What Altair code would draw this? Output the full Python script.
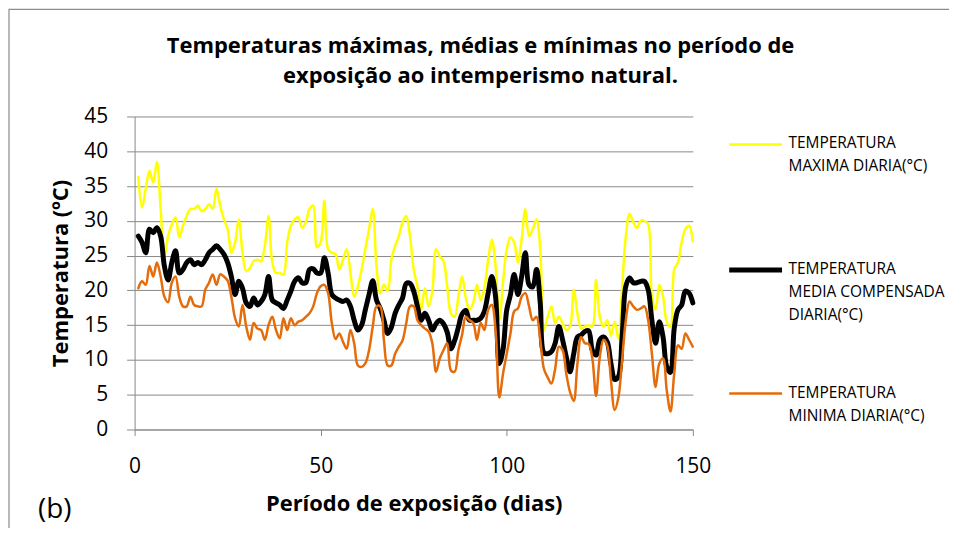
import altair as alt
import pandas as pd

# ---------------- data ----------------
days = list(range(1, 151))

t_max = [36.3, 31.9, 34.6, 37.2, 35.5, 38.5, 31.7, 24.9, 27.8, 29.5,
         30.5, 27.6, 29.3, 30.7, 31.7, 31.7, 32.2, 31.4, 31.7, 32.4,
         31.7, 34.6, 32.2, 30.2, 28.8, 25.4, 26.9, 30.2, 25.4, 22.8,
         23.2, 24.2, 24.4, 24.2, 26.4, 30.7, 24.0, 22.5, 22.5, 22.3,
         26.9, 29.3, 30.2, 30.5, 29.0, 29.8, 31.7, 32.2, 26.2, 26.9,
         32.9, 25.9, 25.4, 25.2, 23.0, 24.4, 25.9, 22.5, 19.1, 20.6,
         23.0, 25.9, 28.8, 31.7, 23.5, 19.6, 20.8, 19.9, 24.4, 26.4,
         27.8, 29.8, 30.7, 27.8, 23.0, 20.6, 17.2, 20.3, 17.7, 19.9,
         25.9, 24.9, 24.2, 20.6, 16.7, 16.2, 19.1, 22.0, 18.9, 17.2,
         18.2, 20.8, 18.6, 20.3, 24.4, 27.3, 23.5, 15.8, 21.1, 25.9,
         27.6, 26.9, 24.0, 27.3, 31.7, 27.8, 28.8, 30.2, 25.9, 14.3,
         16.2, 17.7, 15.3, 16.2, 15.3, 14.3, 14.8, 20.1, 16.7, 14.5,
         14.8, 15.0, 14.8, 21.5, 16.2, 14.8, 15.7, 13.5, 15.5, 13.0,
         20.3, 27.8, 31.0, 29.8, 29.0, 30.0, 30.0, 29.5, 19.1, 17.2,
         20.8, 19.1, 15.5, 14.8, 23.0, 24.0, 26.9, 28.8, 29.3, 27.1]

t_med = [27.8, 26.9, 25.4, 28.8, 28.3, 29.0, 27.8, 23.5, 21.5, 24.0,
         25.7, 22.5, 23.0, 24.0, 24.4, 23.7, 24.0, 23.7, 24.4, 25.4,
         25.9, 26.4, 25.9, 25.2, 24.0, 22.0, 19.4, 21.3, 20.3, 18.2,
         17.7, 18.9, 17.9, 18.4, 19.4, 22.0, 18.6, 18.2, 17.9, 17.4,
         18.6, 19.9, 21.3, 21.8, 21.1, 21.1, 23.0, 23.1, 22.5, 22.5,
         24.7, 22.5, 19.4, 18.9, 18.6, 18.4, 18.6, 17.7, 15.7, 14.3,
         15.0, 17.2, 19.4, 21.4, 18.6, 17.4, 15.7, 13.8, 14.7, 16.7,
         17.9, 18.9, 21.0, 21.0, 19.9, 17.7, 15.7, 16.7, 15.7, 14.3,
         15.2, 15.7, 15.2, 14.0, 11.6, 12.8, 14.7, 16.6, 17.1, 15.7,
         15.7, 15.7, 16.0, 17.0, 19.6, 22.0, 19.1, 9.5, 11.5, 17.2,
         19.4, 22.3, 19.4, 22.0, 25.4, 20.8, 20.5, 23.0, 18.2, 11.0,
         10.9, 11.2, 12.4, 14.8, 12.9, 10.4, 8.3, 10.9, 13.3, 13.6,
         14.1, 14.2, 11.4, 10.7, 12.9, 13.3, 12.6, 9.5, 7.2, 7.6,
         13.3, 20.6, 21.8, 21.1, 21.1, 21.3, 21.3, 20.1, 15.7, 12.4,
         15.5, 13.3, 9.0, 8.2, 14.5, 17.2, 17.9, 19.9, 19.6, 18.2]

t_min = [20.3, 21.3, 20.8, 23.5, 22.0, 24.0, 22.0, 19.1, 18.3, 21.1,
         22.0, 19.1, 17.7, 17.7, 19.1, 17.9, 17.7, 17.7, 20.1, 21.1,
         22.3, 20.8, 22.3, 22.0, 21.4, 19.1, 16.0, 14.8, 17.9, 14.8,
         12.9, 15.3, 14.5, 14.3, 12.9, 15.0, 16.2, 14.3, 13.1, 16.0,
         14.3, 16.0, 15.0, 15.5, 15.7, 16.2, 16.7, 17.7, 19.6, 20.6,
         20.8, 19.6, 15.3, 13.0, 13.8, 12.6, 11.6, 14.3, 12.4, 9.2,
         9.0, 9.5, 11.4, 14.8, 17.7, 17.7, 12.8, 9.2, 9.2, 10.9,
         11.9, 12.8, 15.3, 17.7, 17.7, 15.7, 15.0, 14.5, 14.1, 12.4,
         8.3, 10.2, 11.4, 12.4, 8.5, 8.3, 11.4, 13.6, 16.2, 15.7,
         15.3, 12.9, 15.3, 14.3, 17.2, 17.9, 14.3, 4.6, 8.0, 10.9,
         13.8, 17.0, 17.4, 19.1, 19.6, 17.7, 15.7, 16.2, 12.9, 8.7,
         7.5, 6.6, 8.7, 11.9, 11.4, 8.0, 5.4, 4.1, 9.5, 13.3,
         12.4, 12.3, 10.2, 4.8, 10.4, 12.9, 12.1, 7.1, 2.8, 4.6,
         10.0, 15.7, 18.4, 17.7, 17.2, 17.4, 17.7, 15.7, 10.9, 6.1,
         9.5, 10.2, 5.6, 2.6, 8.0, 12.1, 11.6, 13.8, 12.9, 11.9]

series_names = [
    "TEMPERATURA|MAXIMA DIARIA(°C)",
    "TEMPERATURA|MEDIA COMPENSADA|DIARIA(°C)",
    "TEMPERATURA|MINIMA DIARIA(°C)",
]
series_colors = ["#FFFF00", "#000000", "#E46C0A"]
series_widths = [2.5, 5, 2.5]

title_lines = [
    "Temperaturas máximas, médias e mínimas no período de",
    "exposição ao intemperismo natural.",
]
x_title = "Período de exposição (dias)"
y_title = "Temperatura (ºC)"
panel_label = "(b)"
x_ticks = [0, 50, 100, 150]
y_ticks = [0, 5, 10, 15, 20, 25, 30, 35, 40, 45]

rows = []
for name, vals in zip(series_names, [t_max, t_med, t_min]):
    for d, v in zip(days, vals):
        rows.append({"dia": d, "temp": v, "serie": name})
df = pd.DataFrame(rows)

FONT = "Open Sans"
GRID = "#898989"
LABEL_DY = -8  # shared label shift (legend alignment), compensated on axes

legend = alt.Legend(
    orient="none", legendX=594, legendY=0, padding=0,
    symbolType="stroke", symbolSize=2809,
    labelOffset=4, labelFontSize=15.5, labelFont=FONT, labelColor="#000000",
    labelBaseline="top", labelLimit=400,
    labelExpr="split(datum.label, '|')",
    rowPadding=42, gridAlign="all",
)

lines = alt.Chart(df).mark_line(
    interpolate="catmull-rom", strokeJoin="round", strokeCap="round"
).encode(
    x=alt.X("dia:Q", scale=alt.Scale(domain=[0, 150], nice=False),
            axis=alt.Axis(values=x_ticks, title=x_title, grid=False,
                          tickSize=6, labelPadding=20 - LABEL_DY, labelFlush=False,
                          titleY=81, titleBaseline="alphabetic")),
    y=alt.Y("temp:Q", scale=alt.Scale(domain=[0, 45], nice=False),
            axis=alt.Axis(values=y_ticks, title=y_title, grid=True,
                          tickSize=8, labelPadding=19, labelFlush=False,
                          labelOffset=-LABEL_DY,
                          titleX=-67, titleY=157, titleAngle=270,
                          titleBaseline="alphabetic", titleAlign="center")),
    color=alt.Color("serie:N", title=None,
                    scale=alt.Scale(domain=series_names, range=series_colors),
                    legend=legend),
    strokeWidth=alt.StrokeWidth("serie:N", title=None,
                                scale=alt.Scale(type="ordinal", domain=series_names,
                                                range=series_widths),
                                legend=legend),
)

deco_df = pd.DataFrame({"k": [0]})

border = alt.Chart(deco_df).mark_rect(
    filled=False, color="#8c8c8c", strokeWidth=1.2
).encode(
    x=alt.value(-126), x2=alt.value(900), y=alt.value(-107.5), y2=alt.value(600)
)

title = alt.Chart(deco_df).mark_text(
    font=FONT, fontSize=22, fontWeight="bold", color="#000000",
    align="center", baseline="top", lineBreak="|", lineHeight=30
).encode(
    x=alt.value(347), y=alt.value(-81), text=alt.value("|".join(title_lines))
)

label_b = alt.Chart(deco_df).mark_text(
    font=FONT, fontSize=28, color="#000000", align="left", baseline="alphabetic"
).encode(
    x=alt.value(-97), y=alt.value(403), text=alt.value(panel_label)
)

chart = alt.layer(border, lines, title, label_b).properties(
    width=560, height=314,
    autosize=alt.AutoSizeParams(type="none"),
    padding={"left": 127, "top": 108, "right": 257, "bottom": 98},
).configure(
    font=FONT,
    style={"guide-label": {"lineHeight": 23, "dy": LABEL_DY}},
).configure_view(
    stroke="transparent"
).configure_axis(
    domainColor=GRID, tickColor=GRID, gridColor=GRID, gridWidth=1,
    labelFont=FONT, labelFontSize=21, labelColor="#000000",
    titleFont=FONT, titleFontSize=22, titleFontWeight="bold", titleColor="#000000",
)

chart.save("out.html", embed_options={"renderer": "svg", "actions": False})
